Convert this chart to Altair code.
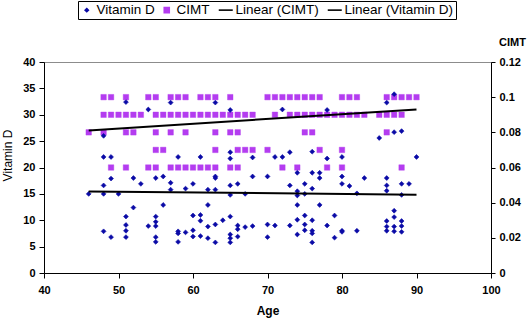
import altair as alt
import pandas as pd

# ---- data ----
vit_age = [46,
           48, 48, 48, 48, 48,
           49, 49, 49,
           50,
           51, 51, 51, 51, 51,
           52, 52,
           53,
           54, 54,
           55, 55, 55, 55, 55, 55,
           56, 56,
           57, 57, 57,
           58, 58, 58, 58,
           59, 59,
           60, 60, 60, 60,
           61, 61, 61, 61,
           62, 62, 62, 62,
           63, 63, 63, 63, 63, 63,
           64,
           65, 65, 65, 65, 65, 65, 65, 65, 65,
           66, 66, 66, 66,
           67, 67,
           68, 68, 68,
           70, 70, 70,
           71, 71,
           72, 72,
           73, 73, 73,
           74, 74, 74, 74, 74, 74,
           75, 75, 75, 75, 75,
           76, 76, 76, 76, 76, 76, 76,
           77, 77, 77,
           78, 78, 78,
           79, 79,
           80, 80, 80, 80, 80,
           81,
           82, 82,
           83,
           85,
           86, 86, 86, 86, 86, 86, 86,
           87, 87, 87, 87, 87, 87,
           88, 88, 88, 88, 88, 88,
           89,
           90]
vit_val = [15.0,
           26.0, 22.0, 16.6, 15.0, 7.9,
           22.0, 17.9, 6.8,
           15.0,
           32.4, 10.7, 9.1, 8.0, 6.8,
           18.0, 12.4,
           16.9,
           31.0, 8.9,
           18.0, 10.7, 9.7, 8.9, 6.8, 5.9,
           18.3, 12.9,
           32.3, 17.1, 15.8,
           22.0, 7.9, 7.5, 5.9,
           16.0, 7.7,
           16.9, 10.9, 8.1, 6.9,
           22.0, 11.0, 9.9, 7.0,
           15.8, 12.9, 8.8, 6.6,
           32.3, 18.3, 18.0, 15.8, 9.2, 5.8,
           10.0,
           30.9, 22.9, 21.7, 16.6, 14.8, 10.7, 7.3, 6.6, 5.8,
           16.9, 9.0, 8.3, 6.9,
           15.0, 8.7,
           21.9, 18.3, 8.9,
           18.3, 9.2, 6.8,
           22.0, 9.0,
           31.0, 22.0,
           22.9, 16.6, 9.0,
           19.0, 15.5, 14.7, 12.9, 10.1, 7.3,
           16.9, 15.0, 10.9, 9.2, 8.1,
           23.0, 19.0, 16.0, 10.0, 8.0, 7.5, 5.8,
           19.0, 18.0, 12.9,
           30.9, 21.7, 9.0,
           10.9, 6.7,
           22.0, 18.3, 16.9, 8.0, 7.8,
           16.5,
           15.1, 8.0,
           18.0,
           25.6,
           32.3, 18.0, 16.6, 15.6, 9.85, 8.8, 8.0,
           33.9, 26.7, 11.8, 10.6, 8.8, 7.9,
           26.9, 16.9, 14.8, 9.85, 8.9, 7.8,
           16.9,
           22.0]

cimt_010_ages = [48, 49, 51, 54, 55, 57, 58, 59, 61, 62, 63, 65, 70, 71, 72, 73,
                 74, 75, 76, 77, 80, 81, 82, 86, 87, 88, 89, 90]
cimt_009_ages = [48, 49, 50, 51, 52, 53, 55, 56, 57, 58, 59, 60, 61, 62, 63, 64,
                 65, 66, 67, 68, 71, 73, 74, 75, 76, 77, 78, 79, 80, 81, 82, 83,
                 85, 86, 87, 88]
cimt_008_ages = [46, 48, 51, 52, 55, 57, 59, 63, 65, 66, 75, 76, 86]
cimt_007_ages = [55, 56, 63, 66, 67, 68, 70, 77, 80]
cimt_006_ages = [49, 51, 54, 55, 57, 58, 59, 60, 61, 62, 63, 65, 66, 72, 74, 78, 80, 88]
cimt_levels = [0.10, 0.09, 0.08, 0.07, 0.06]

# linear trend lines as drawn in the reference (end points)
trend_age = [46, 90]
trend_vitd = [15.47, 14.84]
trend_cimt = [0.0811, 0.0930]

series_names = ["Vitamin D", "CIMT", "Linear (CIMT)", "Linear (Vitamin D)"]
series_colors = ["#0A0AA6", "#B43CF0", "#000000", "#000000"]
# unit-space symbol outlines: small diamond, square, horizontal stroke
series_shapes = ["M0,-0.32L0.32,0L0,0.32L-0.32,0Z",
                 "M-0.5,-0.5H0.5V0.5H-0.5Z",
                 "M-1.4,0H1.4",
                 "M-1.4,0H1.4"]

x_ticks = [40, 50, 60, 70, 80, 90, 100]
left_ticks = [0, 5, 10, 15, 20, 25, 30, 35, 40]
right_ticks = [0, 0.02, 0.04, 0.06, 0.08, 0.1, 0.12]

# ---- tables ----
vit_df = pd.DataFrame({"age": vit_age, "vitd": vit_val, "series": "Vitamin D"})
rows = []
for lvl, ages in zip(cimt_levels, [cimt_010_ages, cimt_009_ages, cimt_008_ages,
                                   cimt_007_ages, cimt_006_ages]):
    for a in ages:
        rows.append({"age": a, "cimt": lvl, "series": "CIMT"})
cimt_df = pd.DataFrame(rows)
tv_df = pd.DataFrame({"age": trend_age, "vitd": trend_vitd, "series": "Linear (Vitamin D)"})
tc_df = pd.DataFrame({"age": trend_age, "cimt": trend_cimt, "series": "Linear (CIMT)"})

FONT = "Liberation Sans"

legend = alt.Legend(
    title=None, orient="none", direction="horizontal",
    legendX=34, legendY=-61, strokeColor="black", fillColor="white",
    padding=2, labelFont=FONT, labelFontSize=13.5, labelColor="black",
    columnPadding=5, labelOffset=3, symbolStrokeWidth=1.6, symbolSize=100,
)
fill_scale = alt.Scale(domain=series_names, range=series_colors)
shape_scale = alt.Scale(domain=series_names, range=series_shapes)

x_enc = alt.X("age:Q", scale=alt.Scale(domain=[40, 100], nice=False),
              axis=alt.Axis(values=x_ticks, title="Age", grid=False,
                            labelFont=FONT, labelFontSize=11, labelFontWeight="bold",
                            titleFont=FONT, titleFontSize=12, titleFontWeight="bold",
                            titlePadding=10, labelPadding=6, tickSize=5,
                            labelOverlap=False, labelFlush=False,
                            domainColor="black", tickColor="black",
                            labelColor="black", titleColor="black"))

y_left = alt.Y("vitd:Q", scale=alt.Scale(domain=[0, 40], nice=False),
               axis=alt.Axis(values=left_ticks, title="Vitamin D", orient="left", grid=False,
                             labelFont=FONT, labelFontSize=11, labelFontWeight="bold",
                             titleFont=FONT, titleFontSize=12, titleFontWeight="normal",
                             titleX=-37, titleY=93, titleAlign="center",
                             titleBaseline="middle", titleAngle=270,
                             tickSize=5, labelPadding=4,
                             labelOverlap=False, labelFlush=False,
                             domainColor="black", tickColor="black",
                             labelColor="black", titleColor="black"))

y_right = alt.Y("cimt:Q", scale=alt.Scale(domain=[0, 0.12], nice=False),
                axis=alt.Axis(values=right_ticks, title="CIMT", orient="right", grid=False,
                              labelExpr="format(datum.value, '~g')",
                              labelFont=FONT, labelFontSize=11, labelFontWeight="bold",
                              titleFont=FONT, titleFontSize=11, titleFontWeight="bold",
                              titleAngle=0, titleX=21, titleY=-20,
                              titleAlign="center", titleBaseline="middle",
                              tickSize=4, labelPadding=4,
                              labelOverlap=False, labelFlush=False,
                              domainColor="black", tickColor="black",
                              labelColor="black", titleColor="black"))

vit_pts = alt.Chart(vit_df).mark_point(filled=True, opacity=1, strokeWidth=0.6, size=230).encode(
    x=x_enc, y=y_left,
    fill=alt.Fill("series:N", scale=fill_scale, legend=legend),
    stroke=alt.Stroke("series:N", scale=fill_scale, legend=legend),
    shape=alt.Shape("series:N", scale=shape_scale, legend=legend),
)
vit_line = alt.Chart(tv_df).mark_line(strokeWidth=2).encode(
    x=x_enc, y=y_left,
    stroke=alt.Stroke("series:N", scale=fill_scale, legend=legend),
)

cimt_pts = alt.Chart(cimt_df).mark_point(filled=True, opacity=1, strokeWidth=0.4, size=121).encode(
    x=x_enc, y=y_right,
    fill=alt.Fill("series:N", scale=fill_scale, legend=legend),
    stroke=alt.Stroke("series:N", scale=fill_scale, legend=legend),
    shape=alt.Shape("series:N", scale=shape_scale, legend=legend),
)
cimt_line = alt.Chart(tc_df).mark_line(strokeWidth=2).encode(
    x=x_enc, y=y_right,
    stroke=alt.Stroke("series:N", scale=fill_scale, legend=legend),
)

left = alt.layer(vit_pts, vit_line)
right = alt.layer(cimt_pts, cimt_line)

chart = alt.layer(right, left).resolve_scale(y="independent").properties(
    width=447, height=211,
    autosize=alt.AutoSizeParams(type="none"),
    padding={"left": 44, "top": 62, "right": 40, "bottom": 49},
    background="white",
).configure_view(stroke="#8C8C8C", strokeWidth=1)

chart.save("out.html", embed_options={"renderer": "svg", "actions": False})
